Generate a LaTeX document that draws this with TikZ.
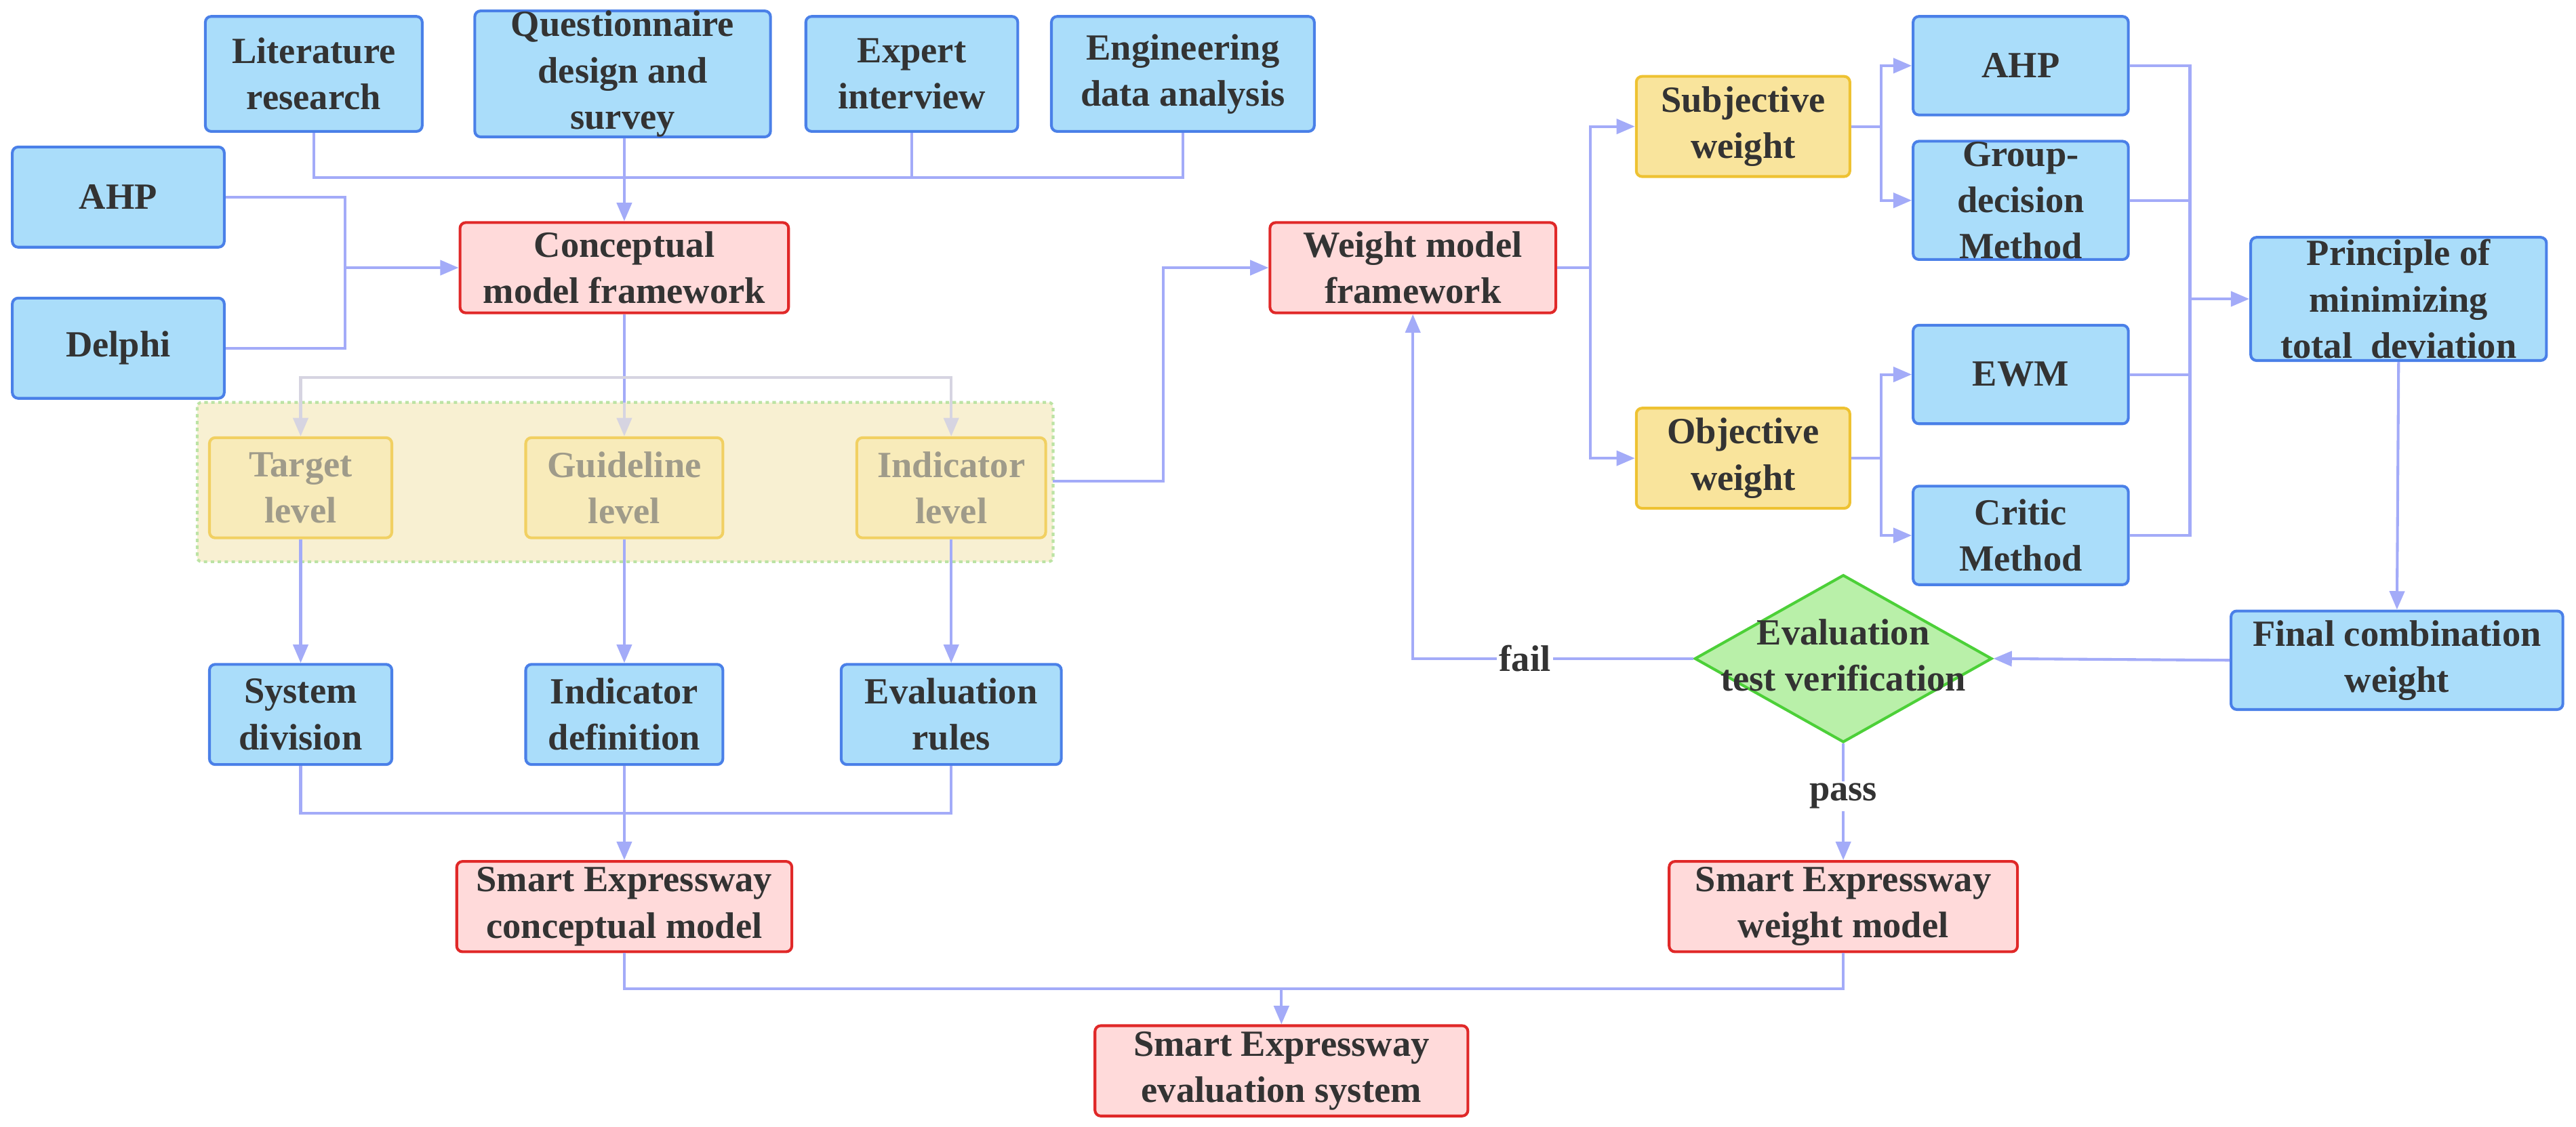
\documentclass[tikz,border=0pt]{standalone}
\usepackage{fontspec}
\setmainfont{Liberation Serif}
\usetikzlibrary{shapes.geometric,arrows.meta}
\definecolor{bfill}{HTML}{AADDFA}\definecolor{bdraw}{HTML}{4A80E8}
\definecolor{rfill}{HTML}{FFDADA}\definecolor{rdraw}{HTML}{E02828}
\definecolor{yfill}{HTML}{F9E49C}\definecolor{ydraw}{HTML}{EEC232}
\definecolor{gfill}{HTML}{B9F0A9}\definecolor{gdraw}{HTML}{4CD038}
\definecolor{arr}{HTML}{A3ABF8}\definecolor{txt}{HTML}{333333}
\definecolor{regf}{HTML}{F8F0D2}\definecolor{regd}{HTML}{BCE3A4}
\begin{document}
\begin{tikzpicture}[x=0.05cm,y=-0.05cm,
 font=\fontsize{32}{40}\selectfont\bfseries, text=txt,
 box/.style={rounded corners=5pt,line width=2.4pt,align=center,inner sep=0pt},
 bl/.style={box,fill=bfill,draw=bdraw},
 rd/.style={box,fill=rfill,draw=rdraw},
 yl/.style={box,fill=yfill,draw=ydraw},
 fd/.style={box,fill=yfill!45!regf,draw=ydraw!70!regf,text=txt!45!regf},
 ln/.style={draw=arr,line width=2.4pt},
 ar/.style={ln,-{Triangle[length=16pt,width=13pt]}},
 far/.style={draw=arr!40!regf,line width=2.4pt,-{Triangle[length=16pt,width=13pt]}}]
\useasboundingbox (0,0) rectangle (1568,686);
\newcommand{\bx}[6]{\node[#1,minimum width=#4*0.05cm,minimum height=#5*0.05cm] (#2) at #3 {#6};}
\bx{bl}{lit}{(191,45)}{132}{70}{Literature\\research}
\bx{bl}{que}{(379,45)}{180}{70}{Questionnaire\\design and\\survey}
\bx{bl}{exp}{(555,45)}{129}{70}{Expert\\interview}
\bx{bl}{eng}{(720,45)}{160}{70}{Engineering\\data analysis}
\bx{bl}{ahpL}{(72,120)}{129}{61}{AHP}
\bx{bl}{del}{(72,212)}{129}{61}{Delphi}
\bx{rd}{cmf}{(380,163)}{200}{55}{Conceptual\\model framework}
\draw[regd,dashed,line width=2.4pt,fill=regf,rounded corners=4pt] (120,245) rectangle (641,342);
\coordinate (regR) at (641,293);
\bx{fd}{tar}{(183,297)}{111}{61}{Target\\level}
\bx{fd}{gui}{(380,297)}{120}{61}{Guideline\\level}
\bx{fd}{ind}{(579,297)}{115}{61}{Indicator\\level}
\bx{bl}{sys}{(183,435)}{111}{61}{System\\division}
\bx{bl}{idf}{(380,435)}{120}{61}{Indicator\\definition}
\bx{bl}{evr}{(579,435)}{134}{61}{Evaluation\\rules}
\bx{rd}{secm}{(380,552)}{204}{55}{Smart Expressway\\conceptual model}
\bx{rd}{sees}{(780,652)}{227}{55}{Smart Expressway\\evaluation system}
\bx{rd}{wmf}{(860,163)}{174}{55}{Weight model\\framework}
\bx{yl}{sub}{(1061,77)}{130}{61}{Subjective\\weight}
\bx{yl}{obj}{(1061,279)}{130}{61}{Objective\\weight}
\bx{bl}{ahpR}{(1230,40)}{131}{60}{AHP}
\bx{bl}{grp}{(1230,122)}{131}{72}{Group-\\decision\\Method}
\bx{bl}{ewm}{(1230,228)}{131}{60}{EWM}
\bx{bl}{cri}{(1230,326)}{131}{60}{Critic\\Method}
\bx{bl}{pri}{(1460,182)}{180}{75}{Principle of\\minimizing\\total\ \ deviation}
\bx{bl}{fin}{(1459,402)}{202}{60}{Final combination\\weight}
\node[diamond,aspect=1.78,fill=gfill,draw=gdraw,line width=2.4pt,inner sep=0pt,minimum width=181*0.05cm,minimum height=102*0.05cm,align=center] (dia) at (1122,401) {};
\node[align=center] at (1122,399) {Evaluation\\test verification};
\bx{rd}{sewm}{(1122,552)}{212}{55}{Smart Expressway\\weight model}
% top inputs
\draw[ln] (lit.south) |- (380,108) -| (eng.south);
\draw[ln] (exp.south) -- (555,108);
\draw[ar] (que.south -| cmf.north) -- (cmf.north);
\draw[ln] (ahpL.east) -| (210,212) -- (del.east);
\draw[ar] (210,163) -- (cmf.west);
% framework to levels
\draw[ln] (cmf.south) -- (380,245);
\draw[far] (380,245) -- (gui.north);
\draw[far] (380,230) -| (tar.north);
\draw[far] (380,230) -| (ind.north);
\draw[ar] (tar.south) -- (sys.north);
\draw[ar] (gui.south) -- (idf.north);
\draw[ar] (ind.south) -- (evr.north);
\draw[ln] (sys.south) |- (380,495) -| (evr.south);
\draw[ar] (idf.south) -- (secm.north);
\draw[ln] (secm.south) |- (780,602) -| (sewm.south);
\draw[ar] (780,602) -- (sees.north);
% weight part
\draw[ar] (regR) -| (708,163) -- (wmf.west);
\draw[ln] (wmf.east) -- (968,163);
\draw[ar] (968,163) |- (sub.west);
\draw[ar] (968,163) |- (obj.west);
\draw[ln] (sub.east) -- (1145,77);
\draw[ar] (1145,77) |- (ahpR.west);
\draw[ar] (1145,77) |- (grp.west);
\draw[ln] (obj.east) -- (1145,279);
\draw[ar] (1145,279) |- (ewm.west);
\draw[ar] (1145,279) |- (cri.west);
\draw[ln] (ahpR.east) -| (1333,326) -- (cri.east);
\draw[ln] (grp.east) -- (1333,122);
\draw[ln] (ewm.east) -- (1333,228);
\draw[ar] (1333,182) -- (pri.west);
\draw[ar] (pri.south) -- (fin.north);
\draw[ar] (fin.west) -- (dia.east);
\draw[ar] (dia.west) -| node[pos=0.3,fill=white,inner sep=2pt] {fail} (wmf.south);
\draw[ar] (dia.south) -- node[pos=0.45,fill=white,inner sep=2pt] {pass} (sewm.north);
\end{tikzpicture}
\end{document}
